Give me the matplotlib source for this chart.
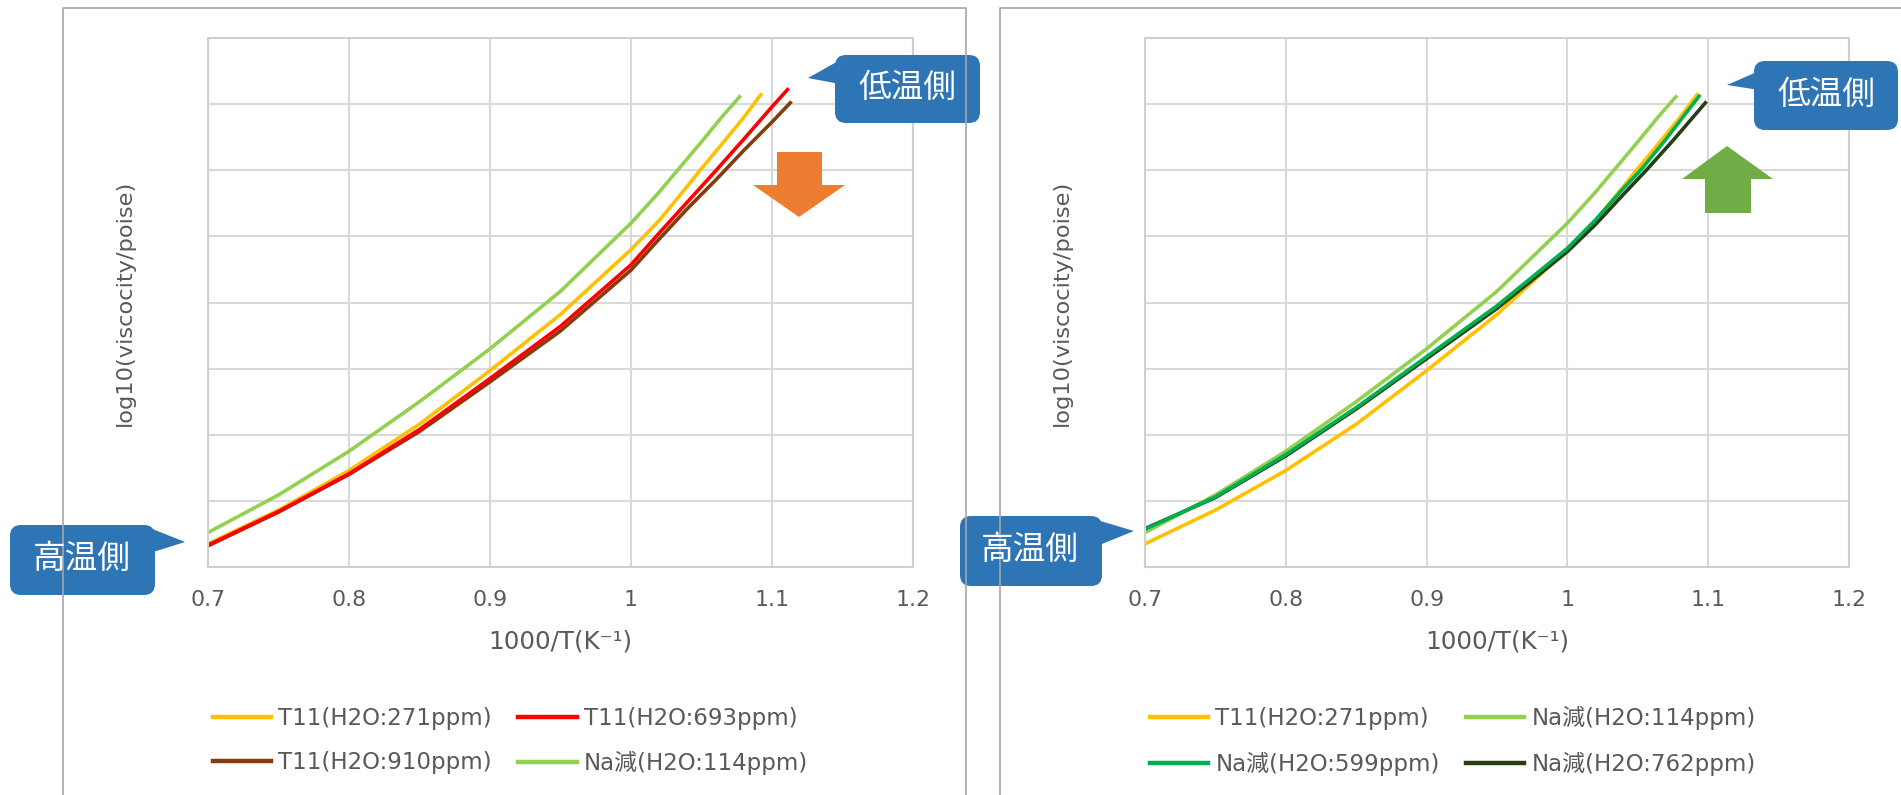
import matplotlib
matplotlib.use('Agg')
import matplotlib.pyplot as plt
from matplotlib.patches import FancyBboxPatch, Polygon

plt.rcParams['font.family'] = ['DejaVu Sans', 'Noto Sans CJK JP']

# ---------------- data (y in grid units, no labels) ----------------
x_t11_271 = [0.70, 0.75, 0.80, 0.85, 0.90, 0.95, 1.00, 1.02, 1.04, 1.049, 1.06, 1.08, 1.092]
y_t11_271 = [0.35, 0.86, 1.46, 2.16, 2.97, 3.82, 4.80, 5.24, 5.76, 6.00, 6.28, 6.80, 7.14]

x_t11_693 = [0.70, 0.75, 0.80, 0.85, 0.90, 0.95, 1.00, 1.02, 1.04, 1.06, 1.08, 1.10, 1.111]
y_t11_693 = [0.33, 0.84, 1.41, 2.08, 2.85, 3.64, 4.57, 5.05, 5.52, 5.99, 6.47, 6.96, 7.22]

x_t11_910 = [0.70, 0.75, 0.80, 0.85, 0.90, 0.95, 1.00, 1.02, 1.04, 1.06, 1.08, 1.10, 1.113]
y_t11_910 = [0.32, 0.83, 1.40, 2.05, 2.80, 3.57, 4.49, 4.96, 5.42, 5.85, 6.30, 6.73, 7.02]

x_na_114 = [0.70, 0.75, 0.80, 0.85, 0.90, 0.95, 1.00, 1.02, 1.033, 1.05, 1.065, 1.077]
y_na_114 = [0.52, 1.09, 1.75, 2.50, 3.30, 4.17, 5.20, 5.67, 6.00, 6.43, 6.82, 7.11]

x_na_599 = [0.70, 0.75, 0.80, 0.85, 0.90, 0.95, 1.00, 1.02, 1.04, 1.052, 1.07, 1.0935]
y_na_599 = [0.57, 1.06, 1.70, 2.41, 3.18, 3.95, 4.82, 5.25, 5.73, 6.00, 6.47, 7.12]

x_na_762 = [0.70, 0.75, 0.80, 0.85, 0.90, 0.95, 1.00, 1.02, 1.04, 1.056, 1.075, 1.098]
y_na_762 = [0.58, 1.05, 1.68, 2.39, 3.15, 3.91, 4.77, 5.18, 5.64, 6.00, 6.45, 7.02]

x_ticks = [0.7, 0.8, 0.9, 1.0, 1.1, 1.2]
x_tick_labels = ['0.7', '0.8', '0.9', '1', '1.1', '1.2']

lab_271 = 'T11(H2O:271ppm)'
lab_693 = 'T11(H2O:693ppm)'
lab_910 = 'T11(H2O:910ppm)'
lab_114 = 'Na減(H2O:114ppm)'
lab_599 = 'Na減(H2O:599ppm)'
lab_762 = 'Na減(H2O:762ppm)'

col_271 = '#FFC000'
col_693 = '#FF0000'
col_910 = '#843C0C'
col_114 = '#92D050'
col_599 = '#00B050'
col_762 = '#263D17'

W, H = 1901, 795
fig = plt.figure(figsize=(W / 100, H / 100), dpi=100)
fig.patch.set_facecolor('white')


def px_axes(x0, y0, x1, y1):
    return fig.add_axes([x0 / W, 1 - y1 / H, (x1 - x0) / W, (y1 - y0) / H])


TXT = '#595959'
GRID = '#D9D9D9'


def style(ax):
    ax.set_xlim(0.7, 1.2)
    ax.set_ylim(0, 8)
    ax.set_xticks(x_ticks)
    ax.set_xticklabels(x_tick_labels)
    ax.set_yticks(range(9))
    ax.set_yticklabels([])
    ax.tick_params(length=0, pad=16.5, labelsize=15.8, labelcolor=TXT)
    ax.grid(True, color=GRID, lw=1.5)
    ax.set_axisbelow(True)
    for s in ax.spines.values():
        s.set_color('#CFCFCF')
        s.set_linewidth(1.5)
    ax.set_xlabel('1000/T(K⁻¹)', fontsize=17.7, color=TXT, va='center')
    ax.xaxis.set_label_coords(0.5, -0.140)
    ax.set_ylabel('log10(viscocity/poise)', fontsize=16.2, color=TXT, va='center')
    ax.yaxis.set_label_coords(-0.118, 0.5)


LW = 2.6
# ---------------- left panel ----------------
axL = px_axes(208, 38, 913, 567)
style(axL)
l271, = axL.plot(x_t11_271, y_t11_271, color=col_271, lw=LW, label=lab_271)
l114, = axL.plot(x_na_114, y_na_114, color=col_114, lw=LW, label=lab_114)
l910, = axL.plot(x_t11_910, y_t11_910, color=col_910, lw=LW, label=lab_910)
l693, = axL.plot(x_t11_693, y_t11_693, color=col_693, lw=LW, label=lab_693)

# ---------------- right panel ----------------
axR = px_axes(1145, 38, 1849, 567)
style(axR)
r271, = axR.plot(x_t11_271, y_t11_271, color=col_271, lw=LW, label=lab_271)
r114, = axR.plot(x_na_114, y_na_114, color=col_114, lw=LW, label=lab_114)
r762, = axR.plot(x_na_762, y_na_762, color=col_762, lw=LW, label=lab_762)
r599, = axR.plot(x_na_599, y_na_599, color=col_599, lw=LW, label=lab_599)

# ---------------- overlay in pixel coordinates ----------------
ov = fig.add_axes([0, 0, 1, 1], zorder=10)
ov.set_xlim(0, W)
ov.set_ylim(H, 0)
ov.axis('off')

leg_kw = dict(ncol=2, frameon=False, fontsize=16.5, labelcolor=TXT, loc='center left',
              borderpad=0, borderaxespad=0, handlelength=2.55, handletextpad=0.3,
              columnspacing=1.15, labelspacing=0.95, bbox_transform=ov.transData)
legL = ov.legend([l271, l910, l693, l114], [lab_271, lab_910, lab_693, lab_114],
                 bbox_to_anchor=(213, 741), **leg_kw)
for h in legL.legend_handles:
    h.set_linewidth(3.2)
ov.add_artist(legL)
legR = ov.legend([r271, r599, r114, r762], [lab_271, lab_599, lab_114, lab_762],
                 bbox_to_anchor=(1150, 741), **leg_kw)
for h in legR.legend_handles:
    h.set_linewidth(3.2)

FRAME = '#A6A6A6'
ov.plot([63, 63, 966, 966], [H, 7.6, 7.6, H], color=FRAME, lw=1.2)
ov.plot([1000, 1000, W], [H, 7.6, 7.6], color=FRAME, lw=1.2)

BLUE = '#2E75B6'


def callout(x0, y0, x1, y1, tri, text, tx, ty):
    ov.add_patch(FancyBboxPatch((x0, y0), x1 - x0, y1 - y0,
                                boxstyle='round,pad=0,rounding_size=11',
                                fc=BLUE, ec='none'))
    ov.add_patch(Polygon(tri, closed=True, fc=BLUE, ec='none'))
    ov.text(tx, ty, text, color='white', fontsize=23.5, ha='center', va='center',
            family=['Noto Sans CJK JP'])


callout(10, 525, 155, 595, [(150, 528), (185, 542), (150, 553)], '高温側', 82, 559)
callout(835, 55, 980, 123, [(840, 60), (808, 78), (840, 84)], '低温側', 907, 88)
callout(960, 516, 1102, 586, [(1097, 520), (1134, 531), (1097, 546)], '高温側', 1030, 550)
callout(1754, 61, 1898, 130, [(1759, 71), (1727, 85), (1759, 90)], '低温側', 1826, 95)

# orange down arrow
ov.add_patch(Polygon([(777, 152), (822, 152), (822, 185), (845, 185), (799, 217),
                      (753, 185), (777, 185)], closed=True, fc='#ED7D31', ec='none'))
# green up arrow
ov.add_patch(Polygon([(1705, 213), (1751, 213), (1751, 179), (1773, 179), (1727, 146),
                      (1682, 179), (1705, 179)], closed=True, fc='#70AD47', ec='none'))

fig.savefig('out.png', dpi=100, facecolor='white')
